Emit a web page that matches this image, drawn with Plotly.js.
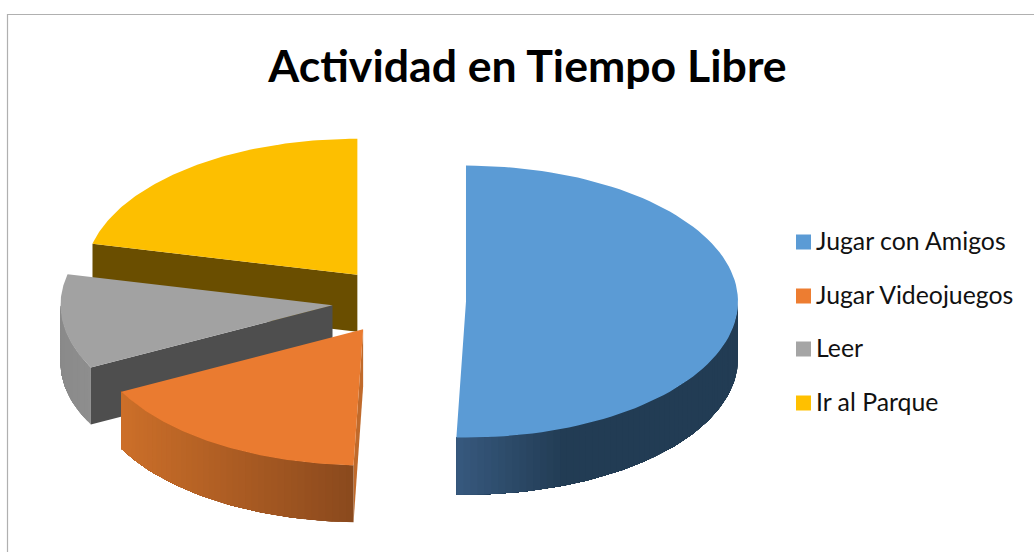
<!DOCTYPE html>
<html>
<head>
<meta charset="utf-8">
<script src="https://cdn.plot.ly/plotly-3.0.1.min.js"></script>
<style>html,body{margin:0;padding:0;background:#fff}#chart{width:1034px;height:552px}</style>
</head>
<body>
<div id="chart"></div>
<script>
// Data
const categories = ["Jugar con Amigos", "Jugar Videojuegos", "Leer", "Ir al Parque"];
const values = [45, 15, 10, 19];
const chartTitle = "Actividad en Tiempo Libre";

// Style
const swatchColors = ["#5b9bd5", "#ed7d31", "#a5a5a5", "#ffc000"];
const topColors = ["#5b9bd5", "#ea7b30", "#a2a2a2", "#fdbf00"];
const cutColors = ["#223c54", "#c06a2b", "#4e4e4e", "#6a4e00"];
const wallStart = ["#223c54", "#8a491d", "#8e8e8e", "#6a4e00"]; // colour at the wall's clockwise start
const wallEnd   = ["#37597e", "#cc6f29", "#8a8a8a", "#6a4e00"];

// Geometry of the projected pie
const cx = 399, cy = 301, rx = 272, ry = 136, depth = 57, pull = 67;
const total = values.reduce((a, b) => a + b, 0);
const deg = Math.PI / 180;

function hex(c) { return [1, 3, 5].map(i => parseInt(c.slice(i, i + 2), 16)); }
function mix(a, b, t) {
  const A = hex(a), B = hex(b);
  return "rgb(" + A.map((v, i) => Math.round(v + (B[i] - v) * t)).join(",") + ")";
}

let acc = 0;
const slices = values.map((v, i) => {
  const a0 = acc * 360 / total; acc += v; const a1 = acc * 360 / total;
  const mid = (a0 + a1) / 2 * deg;
  return { i, a0, a1, ax: cx + pull * Math.sin(mid), ay: cy - pull * 0.5 * Math.cos(mid) };
});
function rim(s, a) { return [s.ax + rx * Math.sin(a * deg), s.ay - ry * Math.cos(a * deg)]; }

function poly(xs, ys, color) {
  return { type: "scatter", mode: "lines", x: xs.concat(xs[0]), y: ys.concat(ys[0]), fill: "toself",
           fillcolor: color, line: { width: 0 }, hoverinfo: "skip", showlegend: false };
}
function topFace(s) {
  const xs = [s.ax], ys = [s.ay];
  for (let a = s.a0; a <= s.a1 + 1e-6; a += (s.a1 - s.a0) / 90) { const p = rim(s, a); xs.push(p[0]); ys.push(p[1]); }
  return poly(xs, ys, topColors[s.i]);
}
function cutFace(s, a) {
  const p = rim(s, a);
  return poly([s.ax, p[0], p[0], s.ax], [s.ay, p[1], p[1] + depth, s.ay + depth], cutColors[s.i]);
}
function wall(s) {
  const from = Math.max(s.a0, 90), to = Math.min(s.a1, 270);
  const out = [];
  if (to <= from) return out;
  const n = Math.ceil((to - from) / 1.5);
  const xa = rim(s, from)[0], xb = rim(s, to)[0];
  // each strip is drawn from its own end back to the wall's far end, so later strips paint over earlier ones with no seam
  for (let k = 0; k < n; k++) {
    const b0 = from + (to - from) * k / n, b1 = from + (to - from) * (k + 1) / n;
    const xsTop = [], ysTop = [];
    for (let j = k; j <= n; j++) { const p = rim(s, from + (to - from) * j / n); xsTop.push(p[0]); ysTop.push(p[1]); }
    const xs = xsTop.concat(xsTop.slice().reverse());
    const ys = ysTop.concat(ysTop.slice().reverse().map(y => y + depth));
    let t = ((rim(s, b0)[0] + rim(s, b1)[0]) / 2 - xa) / (xb - xa);
    if (s.i === 0) t = Math.max(0, (t - 0.62) / 0.38); // blue is flat dark until near its end
    out.push(poly(xs, ys, mix(wallStart[s.i], wallEnd[s.i], t)));
  }
  return out;
}

const [sBlue, sOrange, sGray, sYellow] = slices;
const legendY = [242, 296, 349, 403];
const traces = [
  cutFace(sYellow, sYellow.a0), topFace(sYellow),
  ...wall(sGray), cutFace(sGray, sGray.a0), topFace(sGray),
  cutFace(sOrange, sOrange.a0), ...wall(sOrange), topFace(sOrange),
  ...wall(sBlue), topFace(sBlue),
  { type: "scatter", mode: "markers", x: categories.map(() => 803.5), y: legendY,
    marker: { symbol: "square", size: 15, color: swatchColors, line: { width: 0 } },
    hoverinfo: "skip", showlegend: false },
  { type: "scatter", mode: "text", x: categories.map(() => 816), y: legendY.map(y => y + 1.5),
    text: categories, textposition: "middle right", cliponaxis: false,
    textfont: { family: "Lato, Carlito, sans-serif", size: 24.8, color: "#111" },
    hoverinfo: "text", showlegend: false }
];

const layout = {
  width: 1034, height: 552, margin: { l: 0, r: 0, t: 0, b: 0 }, paper_bgcolor: "#fff", plot_bgcolor: "#fff",
  showlegend: false,
  title: { text: "<b>" + chartTitle + "</b>", x: 527.5 / 1034, xanchor: "center", y: 1 - 66 / 552, yanchor: "middle",
           font: { family: "Lato, Carlito, sans-serif", size: 44.6, color: "#000" } },
  xaxis: { visible: false, range: [0, 1034], fixedrange: true },
  yaxis: { visible: false, range: [552, 0], fixedrange: true },
  shapes: [{ type: "path", xref: "x", yref: "y", path: "M7.5,552 L7.5,14.5 L1034,14.5", line: { color: "#b0b0b0", width: 1.2 } }]
};
Plotly.newPlot("chart", traces, layout, { displayModeBar: false, staticPlot: true });
</script>
</body>
</html>
